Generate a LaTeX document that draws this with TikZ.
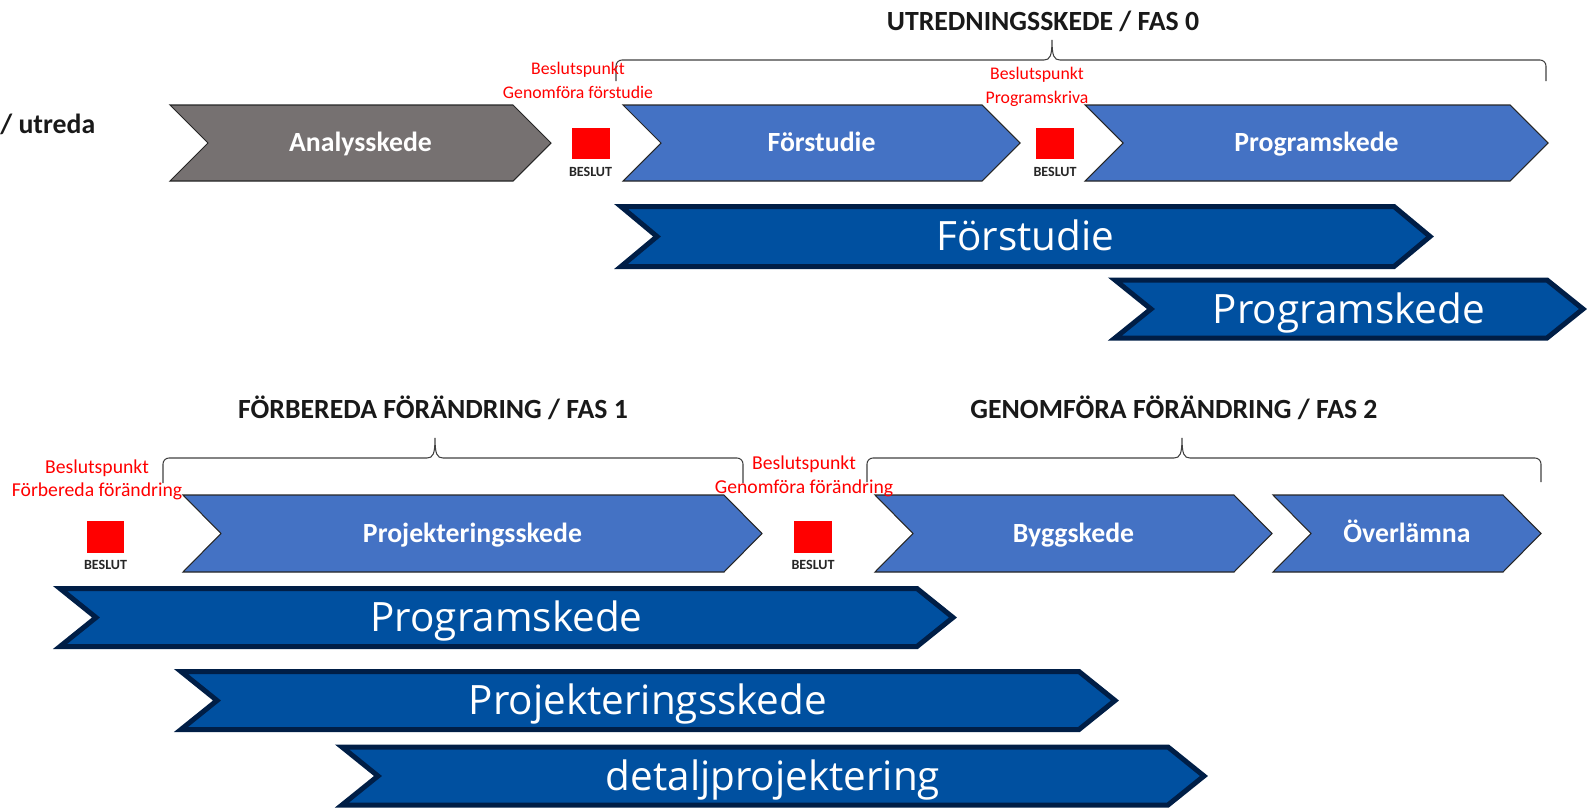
\documentclass[tikz,border=0pt]{standalone}
\usepackage{fontspec}
\setmainfont{Carlito}
\newfontfamily\segoe{Open Sans}
\usepackage{tikz}
\usetikzlibrary{positioning}
\definecolor{stagegray}{RGB}{118,113,113}
\definecolor{stageblue}{RGB}{68,114,196}
\definecolor{phaseblue}{RGB}{0,80,160}
\definecolor{phaseedge}{RGB}{0,30,70}
\definecolor{beslutred}{RGB}{255,0,0}
% shape style, label style, name, left, tip, y centre, half height, depth, text
\newcommand{\Chevron}[9]{%
  \draw[#1] (#4,#6-#7) -- (#5-#8,#6-#7) -- (#5,#6) -- (#5-#8,#6+#7) -- (#4,#6+#7) -- (#4+#8,#6) -- cycle;
  \node[#2] (#3) at ({(#4+#5)/2},#6) {#9};}
% left, right, tip x, line y, end y
\newcommand{\PhaseBrace}[5]{%
  \draw[brace line] (#1,#5) -- (#1,#4+6) to[out=90,in=180] (#1+6,#4) -- (#3-8,#4)
    .. controls (#3-2,#4) and (#3,#4-4) .. (#3,#4-20)
    .. controls (#3,#4-4) and (#3+2,#4) .. (#3+8,#4) -- (#2-6,#4) to[out=0,in=90] (#2,#4+6) -- (#2,#5);}
\tikzset{
    stage gray/.style={fill=stagegray, draw=black!85, line width=0.6pt},
    stage blue/.style={fill=stageblue, draw=black!85, line width=0.6pt},
    phase/.style={fill=phaseblue, draw=phaseedge, line width=0.1cm},
    stage label/.style={text=white, font=\bfseries\fontsize{15.8}{18}\selectfont, text height=10.2pt, text depth=0pt},
    phase label/.style={text=white, font=\segoe\fontsize{23}{27}\selectfont, text height=16.4pt, text depth=0pt},
    title/.style={text=black!90, font=\bfseries\fontsize{15.8}{18}\selectfont, text height=10.2pt, text depth=0pt},
    note/.style={text=beslutred, font=\fontsize{10.1}{13.6}\selectfont, align=center},
    note large/.style={note, font=\fontsize{11.2}{13.4}\selectfont},
    beslut/.style={fill=beslutred, minimum width=0.76cm, minimum height=0.64cm, inner sep=0pt,
      label distance=0pt, label={[beslut label]below:BESLUT}},
    beslut label/.style={text=black!85, font=\bfseries\fontsize{8}{9}\selectfont, inner sep=0pt,
      text height=5.2pt, text depth=0pt, yshift=-0.15cm},
    brace line/.style={draw=black!75, line width=0.6pt}
}
\begin{document}
\begin{tikzpicture}[x=0.02cm, y=-0.02cm]
  \useasboundingbox (0,0) rectangle (1587,808);

  % FAS 0
  \node[title] (fas0) at (1043,22) {UTREDNINGSSKEDE / FAS 0};
  \PhaseBrace{616}{1546}{1052}{60}{81}
  \node[title, anchor=west, inner sep=0pt] (utreda) at (0,125) {/ utreda};
  \Chevron{stage gray}{stage label}{analys}{170}{551}{143}{38}{38}{Analysskede}
  \Chevron{stage blue}{stage label}{forstudie}{623}{1020}{143}{38}{38}{Förstudie}
  \Chevron{stage blue}{stage label}{programskede}{1085}{1548}{143}{38}{38}{Programskede}
  \node[beslut] (b1) at (590.5,143.5) {};
  \node[beslut] (b2) at (1055,143.5) {};
  \node[note] (bp1) at (578,80.5) {Beslutspunkt\\Genomföra förstudie};
  \node[note] (bp2) at (1037,86.5) {Beslutspunkt\\Programskriva};
  \Chevron{phase}{phase label}{forstudieA}{621}{1430}{236.5}{30}{36}{Förstudie}
  \Chevron{phase}{phase label}{programA}{1115}{1583}{309}{29}{36}{Programskede}

  % FAS 1 and FAS 2
  \node[title] (fas1) at (433,410) {FÖRBEREDA FÖRÄNDRING / FAS 1};
  \node[title] (fas2) at (1174,410) {GENOMFÖRA FÖRÄNDRING / FAS 2};
  \PhaseBrace{163}{743}{435}{458}{483}
  \PhaseBrace{867}{1541}{1182}{458}{482}
  \Chevron{stage blue}{stage label}{projektering}{183}{762}{533.5}{38.5}{38}{Projekteringsskede}
  \Chevron{stage blue}{stage label}{bygg}{875}{1272}{533.5}{38.5}{38}{Byggskede}
  \Chevron{stage blue}{stage label}{overlamna}{1273}{1541}{533.5}{38.5}{38}{Överlämna}
  \node[beslut] (b3) at (105.5,536.5) {};
  \node[beslut] (b4) at (813,536.5) {};
  \node[note large] (bp3) at (97,480) {Beslutspunkt\\Förbereda förändring};
  \node[note large] (bp4) at (804,476.5) {Beslutspunkt\\Genomföra förändring};
  \Chevron{phase}{phase label}{programB}{60}{953}{617.5}{29}{36}{Programskede}
  \Chevron{phase}{phase label}{projekteringB}{181}{1115}{700.5}{29}{36}{Projekteringsskede}
  \Chevron{phase}{phase label}{detalj}{342}{1204}{776}{29}{36}{detaljprojektering}
\end{tikzpicture}
\end{document}
